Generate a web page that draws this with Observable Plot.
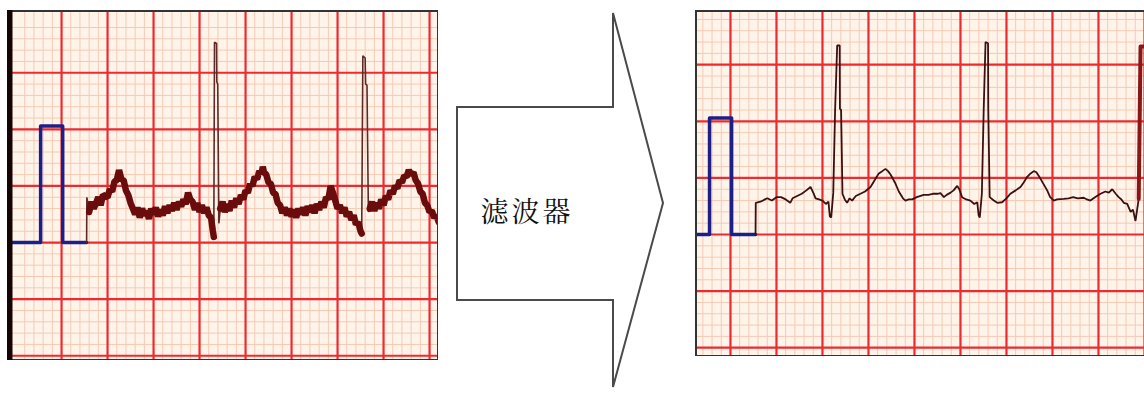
<!DOCTYPE html>
<html>
<head>
<meta charset="utf-8">
<script src="https://cdn.jsdelivr.net/npm/d3@7"></script>
<script src="https://cdn.jsdelivr.net/npm/@observablehq/plot@0.6"></script>
<style>
  html, body { margin: 0; padding: 0; background: #fff; overflow: hidden; }
  #stage { position: relative; width: 1144px; height: 397px; background: #fff; }
  .panel { position: absolute; }
  #arrow { position: absolute; left: 0; top: 0; }
</style>
</head>
<body>
<div id="stage"></div>
<script>
// ---------- Data (time in s, amplitude in mV) ----------
const arrowLabel = "滤波器";

// 1 mV calibration pulse (shared by both strips)
const calT = [-0.05, 0.109, 0.109, 0.205, 0.205, 0.309];
const calV = [0, 0, 1.03, 1.03, 0, 0];

// Noisy ECG before filtering
const rawT = [0.309,0.31,0.32,0.33,0.34,0.36,0.37,0.38,0.40,0.41,0.42,0.43,0.44,0.45,0.46,0.47,0.48,0.49,0.50,0.51,0.52,0.53,0.54,0.55,0.56,0.57,0.58,0.59,0.60,0.61,0.62,0.63,0.64,0.65,0.66,0.67,0.68,0.69,0.70,0.71,0.72,0.73,0.74,0.75,0.76,0.77,0.78,0.79,0.80,0.81,0.82,0.83,0.84,0.85,0.858,0.862,
  0.865,0.874,0.875,0.879,0.884,0.89,
  0.90,0.91,0.92,0.93,0.94,0.95,0.96,0.97,0.98,0.99,1.00,1.01,1.02,1.03,1.04,1.05,1.06,1.07,1.075,1.08,1.09,1.10,1.11,1.12,1.13,1.14,1.15,1.16,1.17,1.18,1.19,1.20,1.21,1.22,1.23,1.24,1.25,1.26,1.27,1.28,1.29,1.30,1.31,1.32,1.33,1.34,1.35,1.36,1.37,1.38,1.39,1.40,1.41,1.42,1.43,1.44,1.45,1.46,1.47,1.48,1.49,1.50,1.505,
  1.51,1.52,1.522,1.528,1.534,1.54,
  1.55,1.56,1.57,1.58,1.59,1.60,1.61,1.62,1.63,1.64,1.65,1.66,1.67,1.68,1.69,1.70,1.71,1.72,1.73,1.74,1.75,1.76,1.77,1.78,1.79,1.80,1.81,1.82,1.83,1.84];
const rawV = [0.00,0.40,0.27,0.36,0.30,0.40,0.33,0.42,0.40,0.47,0.45,0.54,0.55,0.64,0.56,0.55,0.46,0.42,0.35,0.30,0.25,0.31,0.22,0.30,0.24,0.28,0.21,0.30,0.25,0.31,0.23,0.29,0.24,0.32,0.26,0.33,0.28,0.35,0.29,0.36,0.32,0.38,0.34,0.44,0.38,0.36,0.29,0.35,0.27,0.33,0.26,0.31,0.24,0.22,0.10,0.05,
  1.77,1.76,1.42,1.40,0.17,0.30,
  0.36,0.27,0.34,0.28,0.37,0.31,0.39,0.34,0.42,0.38,0.46,0.44,0.52,0.50,0.58,0.56,0.63,0.61,0.67,0.62,0.60,0.53,0.52,0.44,0.43,0.35,0.33,0.26,0.31,0.24,0.30,0.23,0.29,0.22,0.30,0.25,0.31,0.24,0.32,0.27,0.33,0.26,0.34,0.29,0.36,0.31,0.40,0.38,0.50,0.44,0.37,0.30,0.33,0.26,0.31,0.23,0.27,0.20,0.24,0.16,0.18,0.10,0.08,
  1.65,1.63,1.40,1.39,0.27,0.30,
  0.36,0.28,0.35,0.30,0.38,0.33,0.41,0.38,0.46,0.43,0.50,0.48,0.55,0.53,0.59,0.58,0.64,0.60,0.62,0.55,0.52,0.45,0.43,0.35,0.33,0.27,0.28,0.22,0.24,0.18];
const rawSpikes = [[0.862, 0.89], [1.505, 1.54]];

// ECG after filtering
const cleanT = [0.309,0.31,0.33,0.35,0.36,0.38,0.40,0.42,0.44,0.46,0.47,0.49,0.51,0.53,0.548,0.56,0.57,0.585,0.60,0.615,0.626,0.632,0.638,0.647,0.655,0.664,0.675,0.676,0.681,0.687,0.697,0.707,0.718,0.729,0.745,0.765,0.785,0.809,0.83,0.845,0.86,0.874,0.885,0.896,0.915,0.932,0.95,0.961,0.975,0.99,1.01,1.04,1.06,1.08,1.10,1.113,1.128,1.14,1.157,1.17,1.186,1.195,1.207,1.225,1.243,1.26,1.273,1.279,1.284,1.293,1.301,1.309,1.32,1.321,1.327,1.345,1.36,1.381,1.40,1.417,1.44,1.461,1.475,1.49,1.505,1.519,1.53,1.54,1.56,1.577,1.59,1.606,1.62,1.649,1.67,1.69,1.71,1.736,1.75,1.765,1.785,1.809,1.83,1.845,1.86,1.875,1.888,1.90,1.91,1.925,1.94,1.95,1.961,1.975,1.983,2.00];
const cleanV = [0.00,0.28,0.29,0.31,0.32,0.30,0.33,0.33,0.31,0.28,0.32,0.34,0.36,0.39,0.42,0.37,0.32,0.31,0.30,0.27,0.29,0.16,0.15,0.37,1.10,1.67,1.67,1.11,1.10,0.36,0.31,0.28,0.32,0.30,0.34,0.36,0.38,0.42,0.49,0.54,0.56,0.58,0.56,0.53,0.46,0.38,0.32,0.30,0.31,0.31,0.33,0.35,0.35,0.36,0.36,0.365,0.33,0.35,0.37,0.39,0.43,0.40,0.33,0.31,0.30,0.27,0.285,0.17,0.15,0.36,1.10,1.70,1.69,1.10,0.33,0.30,0.28,0.285,0.32,0.36,0.39,0.42,0.46,0.51,0.54,0.56,0.55,0.52,0.45,0.39,0.33,0.30,0.31,0.315,0.32,0.33,0.32,0.325,0.31,0.30,0.33,0.36,0.38,0.37,0.40,0.36,0.33,0.31,0.28,0.27,0.20,0.22,0.12,0.315,1.66,1.66];

// ---------- Styles ----------
const PX_PER_S = 230, PX_PER_MV = 113.2;
const paper = "#fff4ea", minorC = "#f6c9b4", majorC = "#ee2a2e";

function grid(xd, yd) {
  const xs = d3.range(Math.ceil(xd[0] / 0.04 - 1e-6), Math.floor(xd[1] / 0.04 + 1e-6) + 1);
  const ys = d3.range(Math.ceil(yd[0] / 0.1 - 1e-6), Math.floor(yd[1] / 0.1 + 1e-6) + 1);
  return {
    minorX: xs.filter(i => i % 5 !== 0).map(i => i * 0.04),
    majorX: xs.filter(i => i % 5 === 0).map(i => i * 0.04).filter(t => t > xd[0] + 0.04),
    minorY: ys.filter(i => i % 5 !== 0).map(i => i * 0.1),
    majorY: ys.filter(i => i % 5 === 0).map(i => i * 0.1).filter(v => v < yd[1] - 0.06)
  };
}

function strip({width, height, x0, vTop, trace, spikes, thick, traceColor, traceWidth, leftBorder}) {
  const xd = [x0, x0 + width / PX_PER_S];
  const yd = [vTop - height / PX_PER_MV, vTop];
  const g = grid(xd, yd);
  const cal = calT.map((t, i) => ({t, v: calV[i]}));
  const seg = d => spikes.filter(([a]) => a < d.t).length;
  const inSpike = d => spikes.some(([a, b]) => d.t > a && d.t < b);
  const marks = [
    Plot.ruleX(g.minorX, {stroke: minorC, strokeWidth: 1}),
    Plot.ruleY(g.minorY, {stroke: minorC, strokeWidth: 1}),
    Plot.ruleX(g.majorX, {stroke: majorC, strokeWidth: 2.2}),
    Plot.ruleY(g.majorY, {stroke: majorC, strokeWidth: 2.2}),
    Plot.line(cal, {x: "t", y: "v", stroke: "#1c1f8a", strokeWidth: 3.5, clip: true}),
    Plot.line(trace, {x: "t", y: "v", stroke: traceColor, strokeWidth: traceWidth, strokeLinejoin: "miter", clip: true})
  ];
  if (thick) {
    marks.push(Plot.line(trace.filter(d => !inSpike(d) && d.t > 0.31), {x: "t", y: "v", z: seg, stroke: "#6a0c0c", strokeWidth: 6.5, strokeLinejoin: "bevel", clip: true}));
  } else {
    marks.push(Plot.line(trace.filter(d => d.t >= 1.975), {x: "t", y: "v", stroke: "#8c1616", strokeWidth: 4, clip: true}));
  }
  marks.push(Plot.ruleY([yd[0], yd[1]], {stroke: "#333", strokeWidth: 3}));
  marks.push(Plot.ruleX([xd[0]], {stroke: leftBorder ? "#150404" : "#333", strokeWidth: leftBorder ? 10 : 3}));
  if (leftBorder) marks.push(Plot.ruleX([xd[1]], {stroke: "#333", strokeWidth: 3}));
  return Plot.plot({
    width, height,
    marginLeft: 0, marginRight: 0, marginTop: 0, marginBottom: 0,
    x: {domain: xd, axis: null},
    y: {domain: yd, axis: null},
    style: {background: paper, overflow: "hidden"},
    marks
  });
}

const stage = document.getElementById("stage");

const raw = rawT.map((t, i) => ({t, v: rawV[i]}));
const left = strip({width: 431, height: 350, x0: -0.035, vTop: 2.05, trace: raw, spikes: rawSpikes,
  thick: true, traceColor: "#5e2a26", traceWidth: 1.6, leftBorder: true});
left.classList.add("panel");
left.style.left = "7px"; left.style.top = "10px";
stage.appendChild(left);

const clean = cleanT.map((t, i) => ({t, v: cleanV[i]}));
const right = strip({width: 449, height: 346, x0: 0.048, vTop: 1.979, trace: clean, spikes: [],
  thick: false, traceColor: "#3a1010", traceWidth: 1.8, leftBorder: false});
right.classList.add("panel");
right.style.left = "695px"; right.style.top = "10px";
stage.appendChild(right);

// Arrow with label (decoration)
const ns = "http://www.w3.org/2000/svg";
const svg = document.createElementNS(ns, "svg");
svg.setAttribute("id", "arrow");
svg.setAttribute("width", 1144); svg.setAttribute("height", 397);
svg.style.pointerEvents = "none";
const poly = document.createElementNS(ns, "polygon");
poly.setAttribute("points", "457,107 613,107 613,13 663,203 613,387 613,300 457,300");
poly.setAttribute("fill", "#fff"); poly.setAttribute("stroke", "#4a4a4a"); poly.setAttribute("stroke-width", "2");
svg.appendChild(poly);
const txt = document.createElementNS(ns, "text");
txt.setAttribute("x", 527); txt.setAttribute("y", 210);
txt.setAttribute("text-anchor", "middle");
txt.setAttribute("dominant-baseline", "central");
txt.setAttribute("font-family", "'Noto Serif CJK SC', 'Noto Sans CJK SC', sans-serif");
txt.setAttribute("font-size", 28);
txt.setAttribute("letter-spacing", 3);
txt.setAttribute("fill", "#111");
txt.textContent = arrowLabel;
svg.appendChild(txt);
stage.appendChild(svg);
</script>
</body>
</html>
